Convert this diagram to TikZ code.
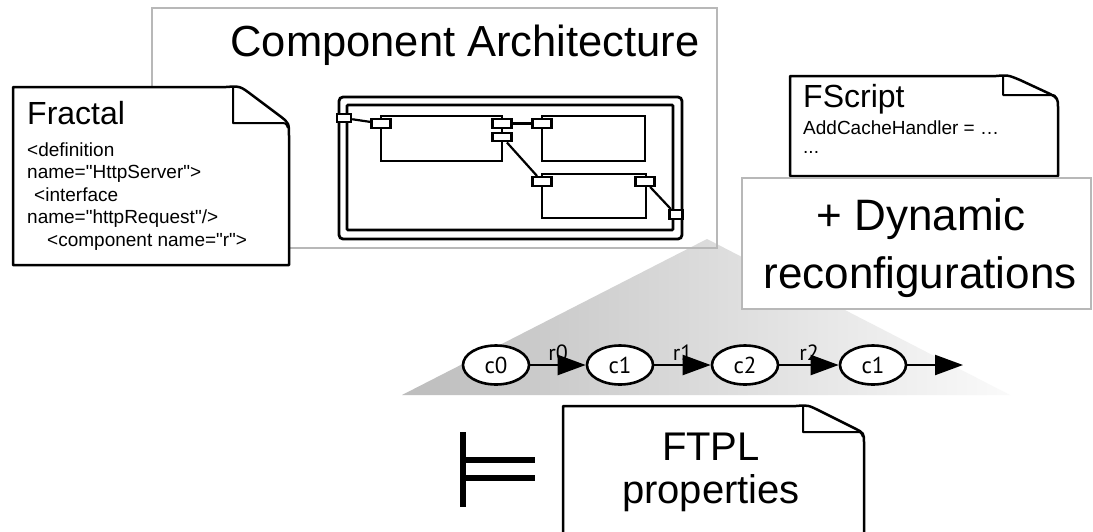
\documentclass[tikz,border=0pt]{standalone}
\usepackage{fontspec}
\setmainfont{Liberation Sans}[Ligatures=TeXOff]
\newfontfamily\statefont{PT Sans}
\usetikzlibrary{arrows.meta,positioning,shapes.geometric}

\begin{document}
\begin{tikzpicture}[x=1pt,y=-1pt,
    panel/.style={draw=black!28,line width=1.2pt},
    paper/.style={draw=black,line width=2.5pt,line join=round,fill=white},
    fold/.style={draw=black,line width=2pt,line join=round},
    comp/.style={draw=black,line width=2.8pt},
    port/.style={draw=black,line width=2.4pt,fill=white,minimum width=19pt,minimum height=8.5pt,inner sep=0pt},
    binding/.style={line width=2.2pt},
    state/.style={draw=black,fill=white,ellipse,line width=2.6pt,minimum width=66pt,minimum height=39pt,inner sep=0pt,font=\statefont\fontsize{23}{23}\selectfont},
    trans/.style={line width=2.2pt,-{Triangle[length=28pt,width=20pt]}},
    lbl/.style={anchor=base,yshift=5pt,inner sep=0pt,font=\statefont\fontsize{22}{22}\selectfont},
    code/.style={anchor=base west,inner sep=0pt,font=\fontsize{19}{19}\selectfont},
    big/.style={anchor=base,inner sep=0pt,font=\fontsize{44}{44}\selectfont}
]

    \useasboundingbox (0,0) rectangle (1093,531);
    \fill[white] (0,0) rectangle (1093,531);
    \clip (0,0) rectangle (1093,531);

    % zoom wedge
    \shade[left color=black!26,right color=black!2] (707,239) -- (402,395) -- (1010,395) -- cycle;

    % component architecture
    \draw[panel] (152,8) rectangle (717,248);
    \node[big,font=\fontsize{43.5}{43.5}\selectfont] (archtitle) at (465,56) {Component Architecture};

    \draw[comp,rounded corners=4pt] (339,97) rectangle (682,239);
    \draw[comp,rounded corners=1pt] (347,105) rectangle (673,230);
    \draw[comp] (381,116) rectangle (502,161);
    \draw[comp] (542,116) rectangle (645,161);
    \draw[comp] (542,174) rectangle (646,218);

    \node[port,minimum width=14pt] (cpin) at (344,118) {};
    \node[port] (c1in) at (381,123.5) {};
    \node[port] (c1outa) at (502,123.5) {};
    \node[port] (c1outb) at (502,137) {};
    \node[port] (c2in) at (542,123.5) {};
    \node[port] (c3in) at (542,181.5) {};
    \node[port] (c3out) at (645,181.5) {};
    \node[port,minimum width=13pt] (cpout) at (676,214.5) {};

    \draw[binding] (cpin) -- (c1in);
    \draw[binding] (c1outa) -- (c2in);
    \draw[binding] (c1outb) -- (c3in);
    \draw[binding] (c3out) -- (cpout);

    % fractal ADL
    \draw[paper] (13,265) -- (13,87) -- (226,87) .. controls (240,86) .. (252,95) -- (280,116) .. controls (289,123) .. (289,136) -- (289,265) -- cycle;
    \draw[fold] (233,88) -- (233,123) -- (280,123) .. controls (286,123) .. (288,128);
    \node[anchor=base west,inner sep=0pt,font=\fontsize{32}{32}\selectfont] (fractitle) at (27,124) {Fractal};
    \node[code] (fracl1) at (27,156) {<definition};
    \node[code] (fracl2) at (27,178.5) {name="HttpServer">};
    \node[code] (fracl3) at (34,201) {<interface};
    \node[code] (fracl4) at (27,223.5) {name="httpRequest"/>};
    \node[code] (fracl5) at (47,246) {<component name="r">};

    % fscript
    \draw[paper] (790,176) -- (790,76) -- (996,76) .. controls (1008,75) .. (1020,80) -- (1048,93) .. controls (1058,98) .. (1058,108) -- (1058,176) -- cycle;
    \draw[fold] (1003,77) -- (1003,95) -- (1050,95) .. controls (1055,95) .. (1057,100);
    \node[anchor=base west,inner sep=0pt,font=\fontsize{32}{32}\selectfont] (fstitle) at (803,107) {FScript};
    \node[code] (fsl1) at (803,134) {AddCacheHandler = …};
    \node[code] (fsl2) at (803,153) {...};

    % reconfigurations
    \draw[panel,fill=white] (742,178) rectangle (1091,309);
    \node[big] (dynl1) at (921,230) {+ Dynamic};
    \node[big] (dynl2) at (920,288) {reconfigurations};

    % execution trace
    \node[state] (s0) at (496,365) {c0};
    \node[state] (s1) at (620,365) {c1};
    \node[state] (s2) at (745,365) {c2};
    \node[state] (s3) at (873,365) {c1};
    \coordinate (tail) at (963,365);

    \draw[trans] (s0) -- node[lbl] {r0} (s1);
    \draw[trans] (s1) -- node[lbl] {r1} (s2);
    \draw[trans] (s2) -- node[lbl] {r2} (s3);
    \draw[trans] (s3) -- (tail);

    % ftpl
    \draw[line width=6pt] (463,432) -- (463,507);
    \draw[line width=6pt] (460,460) -- (535,460);
    \draw[line width=6pt] (460,478) -- (535,478);

    \draw[paper] (563,545) -- (563,406) -- (796,406) .. controls (808,405) .. (820,411) -- (854,428) .. controls (864,433) .. (864,443) -- (864,545);
    \draw[fold] (803,407) -- (803,432) -- (856,432) .. controls (861,432) .. (863,437);
    \node[big,font=\fontsize{40}{40}\selectfont] (ftpll1) at (711,460) {FTPL};
    \node[big,font=\fontsize{40}{40}\selectfont] (ftpll2) at (711,503) {properties};

\end{tikzpicture}
\end{document}
